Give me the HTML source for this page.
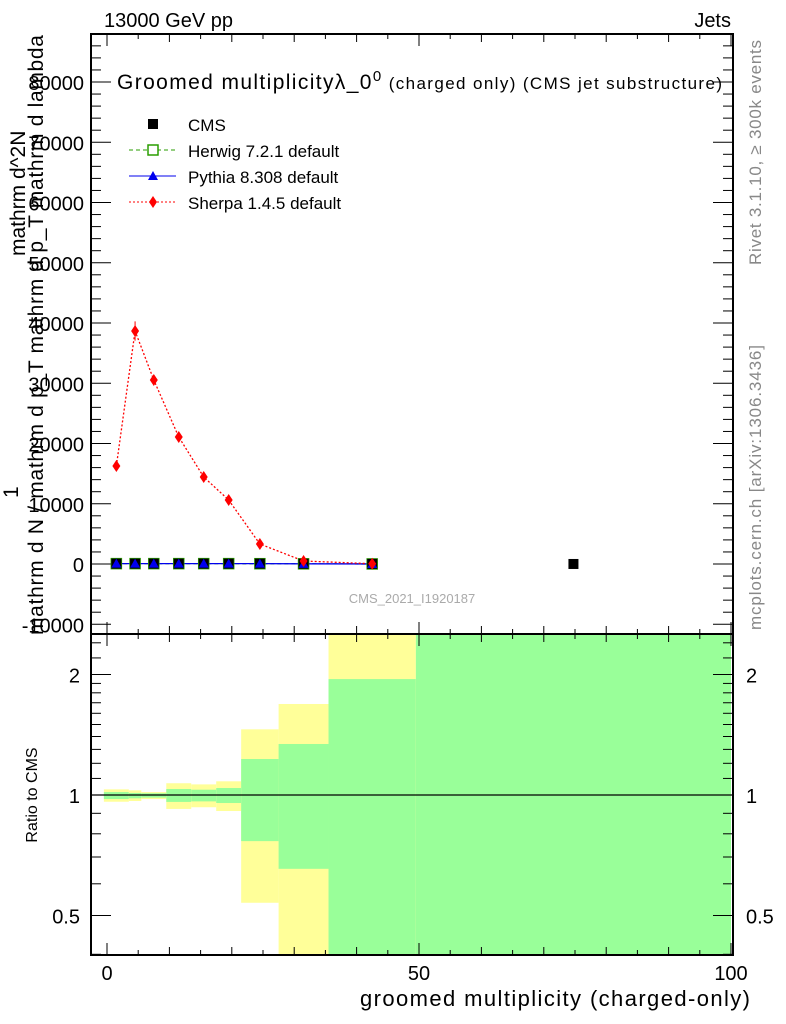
<!DOCTYPE html>
<html><head><meta charset="utf-8"><style>
body{margin:0;background:#fff}
svg{display:block;font-family:"Liberation Sans",sans-serif}
</style></head><body>
<svg id="c" width="786" height="1024" xmlns="http://www.w3.org/2000/svg"></svg>
<script>
const binEdges=[-0.5,3.5,5.5,9.5,13.5,17.5,21.5,27.5,35.5,49.5,100];
const pointX=[1.5,4.5,7.5,11.5,15.5,19.5,24.5,31.5,42.5];
const cmsX=[1.5,4.5,7.5,11.5,15.5,19.5,24.5,31.5,42.5,74.75];
const cmsY=[60,60,60,60,60,60,60,40,20,5];
const herwigY=[60,60,60,60,60,60,50,30,10];
const pythiaY=[60,60,60,60,60,60,60,30,10];
const sherpaY=[16260,38670,30540,21080,14440,10620,3320,500,40];
const sherpaErr=[300,1600,600,400,300,300,200,100,20];
const yTicks=[-10000,0,10000,20000,30000,40000,50000,60000,70000,80000];
const xTicks=[0,50,100];
const greenLo=[0.977,0.981,0.985,0.961,0.964,0.955,0.767,0.654,0.3,0.3];
const greenHi=[1.017,1.012,1.010,1.035,1.031,1.041,1.230,1.341,1.948,3];
const yellowLo=[0.962,0.966,0.977,0.923,0.932,0.912,0.538,0.3,0.3,0.3];
const yellowHi=[1.033,1.027,1.017,1.070,1.063,1.082,1.459,1.688,3,3];
const rTicks=[0.5,1,2];

const svg=document.getElementById('c');const NS='http://www.w3.org/2000/svg';
function mk(t,a,p){const e=document.createElementNS(NS,t);for(const k in a)e.setAttribute(k,a[k]);(p||svg).appendChild(e);return e;}
const L=91,R=733,T=34,M=634,B=955;
const X=v=>107+(v-0)*6.24;
const Y=v=>564-v*0.006025;
const RY=v=>795-Math.log2(v)*120.5;
const cl=(v,a,b)=>Math.max(a,Math.min(b,v));

const bands=mk('g',{});

for(let i=0;i<binEdges.length-1;i++){
  const x0=X(binEdges[i]),x1=X(binEdges[i+1]);
  const yh=cl(RY(yellowHi[i]),M,B),yl=cl(RY(yellowLo[i]),M,B);
  const r1=mk('rect',{x:x0,y:yh,width:x1-x0,height:yl-yh,fill:'#ffff99'},bands);
  
  const gh=cl(RY(greenHi[i]),M,B),gl=cl(RY(greenLo[i]),M,B);
  const r2=mk('rect',{x:x0,y:gh,width:x1-x0,height:gl-gh,fill:'#99ff99'},bands);
  
}
mk('line',{x1:L,x2:R,y1:RY(1),y2:RY(1),stroke:'#000','stroke-width':1.2});

const f1=mk('rect',{x:L,y:T,width:R-L,height:M-T,fill:'none',stroke:'#000','stroke-width':2});

const f2=mk('rect',{x:L,y:M,width:R-L,height:B-M,fill:'none',stroke:'#000','stroke-width':2});


for(let v=0;v<=100;v+=5){
  const big=v%50===0;const x=X(v);
  for(const [yy,dir] of [[T,1],[M,-1],[M,1],[B,-1]]){
    mk('line',{x1:x,x2:x,y1:yy,y2:yy+dir*(v%10===0?(big?12:8):5),stroke:'#000','stroke-width':1});
  }
}
xTicks.forEach(v=>{const t=mk('text',{x:X(v),y:980,'font-size':20,'text-anchor':'middle'});t.textContent=v;
});
for(let v=-10000;v<=88000;v+=2000){
  const big=v%10000===0;const y=Y(v);if(y<T)continue;
  mk('line',{x1:L,x2:L+(big?20:10),y1:y,y2:y,stroke:'#000'});
  mk('line',{x1:R,x2:R-(big?20:10),y1:y,y2:y,stroke:'#000'});
}
yTicks.forEach(v=>{const t=mk('text',{x:84,y:Y(v)+8,'font-size':20,'text-anchor':'end'});t.textContent=v;
});
[0.4,0.5,0.6,0.7,0.8,0.9,1,1.1,1.2,1.3,1.4,1.5,1.6,1.7,1.8,1.9,2,2.2,2.4].forEach(v=>{
  const y=RY(v);if(y<M||y>B)return;const big=rTicks.includes(v);
  mk('line',{x1:L,x2:L+(big?20:10),y1:y,y2:y,stroke:'#000'});
  mk('line',{x1:R,x2:R-(big?20:10),y1:y,y2:y,stroke:'#000'});
});
rTicks.forEach(v=>{
  const t=mk('text',{x:80,y:RY(v)+8,'font-size':20,'text-anchor':'end'});t.textContent=v;
  
  const t2=mk('text',{x:746,y:RY(v)+8,'font-size':20});t2.textContent=v;
  
});

function line(xs,ys,col,dash,name){
  const p=mk('polyline',{points:xs.map((x,i)=>X(x)+','+Y(ys[i])).join(' '),fill:'none',stroke:col,'stroke-width':1.3,'stroke-dasharray':dash});
  
}
line(pointX,herwigY,'#2a9d00','4,3','herwig-line');
line(pointX,pythiaY,'#0000ee','','pythia-line');
line(pointX,sherpaY,'#ff0000','2,2','sherpa-line');
pointX.forEach((x,i)=>{
  const s=mk('rect',{x:X(x)-5,y:Y(herwigY[i])-5,width:10,height:10,fill:'none',stroke:'#2a9d00','stroke-width':1.5});
  
});
cmsX.forEach((x,i)=>{
  const s=mk('rect',{x:X(x)-5,y:Y(cmsY[i])-5,width:10,height:10,fill:'#000'});
  
});
pointX.forEach((x,i)=>{
  const cx=X(x),cy=Y(pythiaY[i]);
  const p=mk('polygon',{points:`${cx-5},${cy+4} ${cx+5},${cy+4} ${cx},${cy-5}`,fill:'#0000ee'});
  
});
pointX.forEach((x,i)=>{
  const cx=X(x),cy=Y(sherpaY[i]);
  mk('line',{x1:cx,x2:cx,y1:Y(sherpaY[i]+sherpaErr[i]),y2:Y(sherpaY[i]-sherpaErr[i]),stroke:'#ff0000'});
  const p=mk('polygon',{points:`${cx},${cy-6} ${cx+4},${cy} ${cx},${cy+6} ${cx-4},${cy}`,fill:'#ff0000'});
  
});

function txt(s,a,name){const t=mk('text',a);t.textContent=s;return t;}
txt('13000 GeV pp',{x:104,y:27,'font-size':20},'energy-label');
txt('Jets',{x:731,y:27,'font-size':20,'text-anchor':'end'},'process-label');
const ti=txt('',{x:117,y:89,'font-size':21,textLength:'605'},'plot-title');
ti.innerHTML='Groomed multiplicity\u03bb_0<tspan dy="-8" font-size="15">0</tspan><tspan dy="8" font-size="17"> (charged only) (CMS jet substructure)</tspan>';
txt('CMS_2021_I1920187',{x:412,y:603,'font-size':13,fill:'#aaa','text-anchor':'middle'},'analysis-id');
txt('groomed multiplicity (charged-only)',{x:750,y:1006,'font-size':22,'text-anchor':'end',textLength:'390'},'x-axis-title');
txt('Ratio to CMS',{x:0,y:0,'font-size':16,transform:'translate(37,795) rotate(-90)','text-anchor':'middle'},'ratio-y-axis-title');
txt('Rivet 3.1.10, \u2265 300k events',{x:0,y:0,'font-size':17,fill:'#888',textLength:'225',transform:'translate(761,265) rotate(-90)'},'rivet-label');
txt('mcplots.cern.ch [arXiv:1306.3436]',{x:0,y:0,'font-size':17,fill:'#888',textLength:'285',transform:'translate(761,630) rotate(-90)'},'mcplots-label');
txt('mathrm d^2N',{x:0,y:0,'font-size':21,transform:'translate(25,256) rotate(-90)'},'y-axis-title-top');
txt('1',{x:0,y:0,'font-size':21,transform:'translate(18,498) rotate(-90)'},'y-axis-title-one');
txt('mathrm d N / mathrm d p_T mathrm d p_T mathrm d lambda',{x:0,y:0,'font-size':21,textLength:'600',transform:'translate(43,635) rotate(-90)'},'y-axis-title');

const lg=mk('g',{});
const ent=[['CMS','cms'],['Herwig 7.2.1 default','herwig'],['Pythia 8.308 default','pythia'],['Sherpa 1.4.5 default','sherpa']];
ent.forEach((e,i)=>{
  const y=124+i*26;const g=mk('g',{},lg);
  const t=mk('text',{x:188,y:y+7,'font-size':17},g);t.textContent=e[0];
  if(e[1]==='cms')mk('rect',{x:148,y:y-5,width:10,height:10,fill:'#000'},g);
  if(e[1]==='herwig'){mk('line',{x1:129,x2:176,y1:y,y2:y,stroke:'#2a9d00','stroke-dasharray':'4,3'},g);mk('rect',{x:148,y:y-5,width:10,height:10,fill:'#fff',stroke:'#2a9d00','stroke-width':1.5},g);}
  if(e[1]==='pythia'){mk('line',{x1:129,x2:176,y1:y,y2:y,stroke:'#0000ee'},g);mk('polygon',{points:`148,${y+4} 158,${y+4} 153,${y-5}`,fill:'#0000ee'},g);}
  if(e[1]==='sherpa'){mk('line',{x1:129,x2:176,y1:y,y2:y,stroke:'#ff0000','stroke-dasharray':'2,2'},g);mk('polygon',{points:`153,${y-6} 157,${y} 153,${y+6} 149,${y}`,fill:'#ff0000'},g);}
});
</script>
</body></html>
